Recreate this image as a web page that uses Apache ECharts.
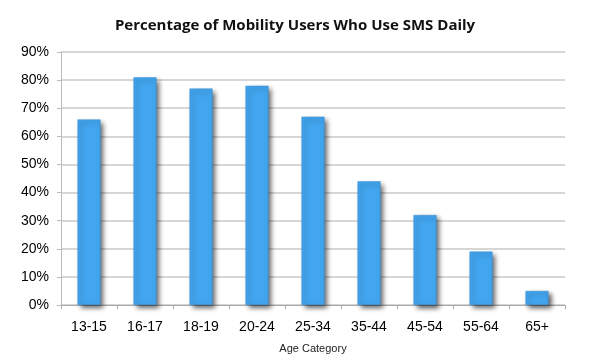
<!DOCTYPE html>
<html><head><meta charset="utf-8">
<script src="https://cdn.jsdelivr.net/npm/echarts@6/dist/echarts.min.js"></script>
<style>html,body{margin:0;padding:0;background:#fff}#c{width:590px;height:361px}</style>
</head><body><div id="c"></div>
<script>
var categories = ['13-15','16-17','18-19','20-24','25-34','35-44','45-54','55-64','65+'];
var values = [66, 81, 77, 78, 67, 44, 32, 19, 5];
var titleText = 'Percentage of Mobility Users Who Use SMS Daily';
var xName = 'Age Category';

var chart = echarts.init(document.getElementById('c'), null, {renderer:'canvas'});
chart.setOption({
  animation:false,
  title:{text:titleText,left:'center',top:13,textStyle:{fontFamily:'Open Sans',fontWeight:'bold',fontSize:15,color:'#111'}},
  grid:{left:61,right:25,top:52,bottom:56,containLabel:false},
  xAxis:{type:'category',data:categories,name:xName,nameLocation:'middle',nameGap:38,
    nameTextStyle:{fontFamily:'Liberation Sans',fontSize:11,color:'#222'},
    axisLine:{lineStyle:{color:'#aaa'}},
    axisTick:{show:true,alignWithLabel:false,length:4,lineStyle:{color:'#aaa'}},
    axisLabel:{fontFamily:'Liberation Sans',fontSize:14,color:'#000',margin:15}},
  yAxis:{type:'value',min:0,max:90,interval:10,
    axisLine:{show:true,lineStyle:{color:'#bbb'}},
    axisTick:{show:true,length:4,lineStyle:{color:'#bbb'}},
    axisLabel:{formatter:'{value}%',fontFamily:'Liberation Sans',fontSize:14,color:'#000',margin:12},
    splitLine:{lineStyle:{color:'#c8c8c8',width:1.5}}},
  series:[{type:'bar',data:values,barWidth:23,
    itemStyle:{color:'#42a5ef',borderColor:'#3d8fcf',borderWidth:0.5,shadowColor:'rgba(0,0,0,0.65)',shadowBlur:5,shadowOffsetX:3,shadowOffsetY:3}}]
});
</script></body></html>
